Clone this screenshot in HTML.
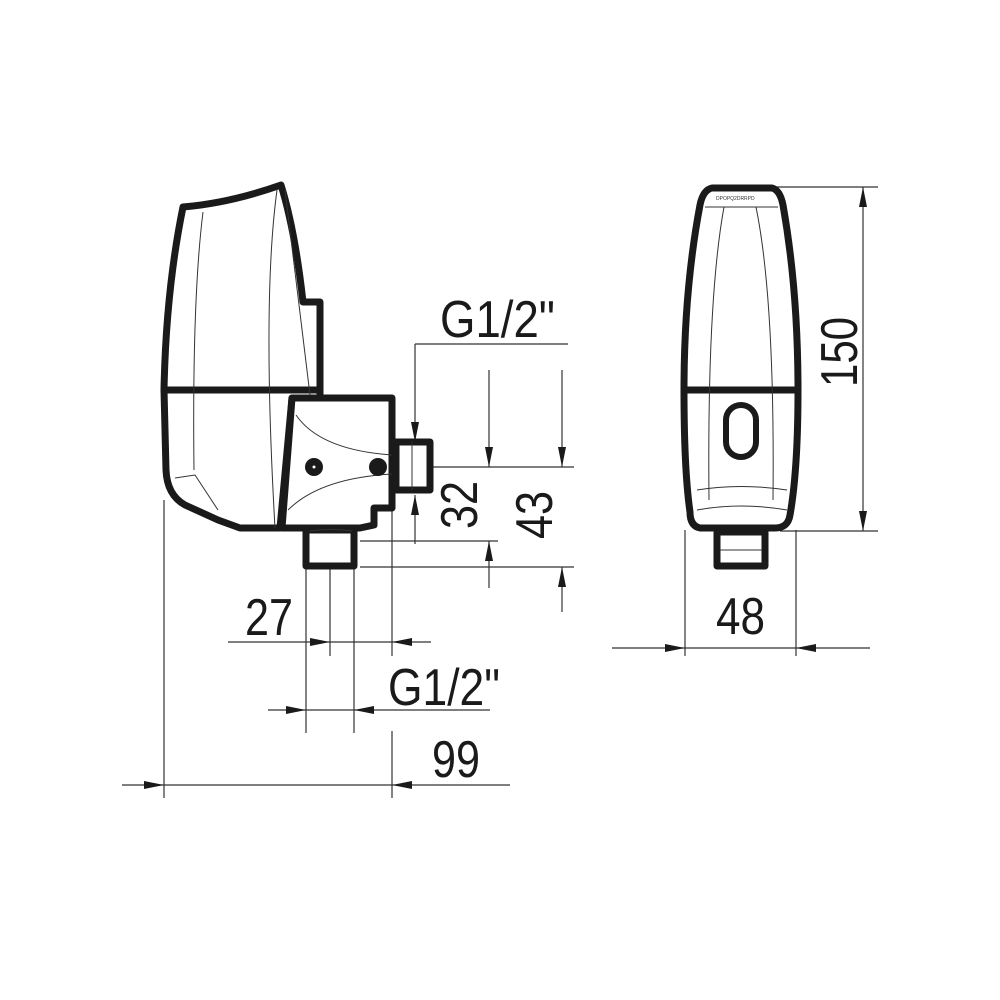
<!DOCTYPE html>
<html><head><style>html,body{margin:0;padding:0;background:#fff}svg{display:block}</style></head>
<body>
<svg width="1000" height="1000" viewBox="0 0 1000 1000" xmlns="http://www.w3.org/2000/svg" font-family="'Liberation Sans', sans-serif">
<defs>
<marker id="a" viewBox="0 0 20 8" refX="20" refY="4" markerWidth="20" markerHeight="8" markerUnits="userSpaceOnUse" orient="auto-start-reverse"><path d="M0,0L20,4L0,8z" fill="#1a1a1a"/></marker>
</defs>
<g stroke="#333" stroke-width="1.2" fill="none">
<line x1="164" y1="500" x2="164" y2="798"/>
<line x1="392" y1="500" x2="392" y2="656"/>
<line x1="392" y1="731" x2="392" y2="798"/>
<line x1="306" y1="566" x2="306" y2="733"/>
<line x1="354" y1="566" x2="354" y2="733"/>
<line x1="330" y1="530" x2="330" y2="656"/>
<line x1="415" y1="344" x2="568" y2="344"/>
<line x1="432" y1="467" x2="574" y2="467"/>
<line x1="360" y1="541" x2="498" y2="541"/>
<line x1="360" y1="567" x2="574" y2="567"/>
<line x1="415" y1="544" x2="415" y2="495" marker-end="url(#a)"/>
<line x1="415" y1="344" x2="415" y2="442" marker-end="url(#a)"/>
<line x1="489" y1="370" x2="489" y2="467" marker-end="url(#a)"/>
<line x1="489" y1="588" x2="489" y2="541" marker-end="url(#a)"/>
<line x1="562" y1="370" x2="562" y2="467" marker-end="url(#a)"/>
<line x1="562" y1="612" x2="562" y2="567" marker-end="url(#a)"/>
<line x1="228" y1="642" x2="330" y2="642" marker-end="url(#a)"/>
<line x1="431" y1="642" x2="392" y2="642" marker-end="url(#a)"/>
<line x1="330" y1="642" x2="392" y2="642"/>
<line x1="268" y1="710" x2="306" y2="710" marker-end="url(#a)"/>
<line x1="490" y1="710" x2="354" y2="710" marker-end="url(#a)"/>
<line x1="306" y1="710" x2="354" y2="710"/>
<line x1="122" y1="785" x2="164" y2="785" marker-end="url(#a)"/>
<line x1="510" y1="785" x2="392" y2="785" marker-end="url(#a)"/>
<line x1="164" y1="785" x2="392" y2="785"/>
<line x1="685" y1="530" x2="685" y2="656"/>
<line x1="796" y1="530" x2="796" y2="656"/>
<line x1="612" y1="648" x2="685" y2="648" marker-end="url(#a)"/>
<line x1="870" y1="648" x2="796" y2="648" marker-end="url(#a)"/>
<line x1="685" y1="648" x2="796" y2="648"/>
<line x1="770" y1="187" x2="878" y2="187"/>
<line x1="780" y1="531" x2="878" y2="531"/>
<line x1="863" y1="359" x2="863" y2="187" marker-end="url(#a)"/>
<line x1="863" y1="359" x2="863" y2="531" marker-end="url(#a)"/>
</g>
<g fill="#fff" stroke="#1a1a1a" stroke-width="7" stroke-linejoin="round">
<path d="M183,207 Q230,203 281,185 Q295,230 303,302 L320,302 L320,390 L164,390 Q166,290 183,207Z"/>
<path d="M164,390 L320,390 L320,398 L292,398 L280,528 L240,528 L218,520 L185,505 Q167,495 166,470 Z"/>
<path d="M292,398 L392,398 L392,508 L374,508 L374,525 L360,528 L282,528 Z"/>
<rect x="396" y="442" width="34" height="48"/>
<rect x="306" y="530" width="48" height="36"/>
</g>
<g fill="none" stroke="#333" stroke-width="1">
<path d="M203,212 Q192,300 194,470"/>
<path d="M277,190 Q262,300 275,528"/>
<path d="M285,190 Q298,300 310,395"/>
<path d="M296,415 Q320,450 392,455"/>
<path d="M288,510 Q320,478 392,474"/>
<path d="M175,478 L195,475 L218,510"/>
<path d="M310,531 Q330,528 352,531"/>
<line x1="412" y1="442" x2="412" y2="490"/>
</g>
<circle cx="314" cy="467" r="9" fill="#1a1a1a"/>
<circle cx="378" cy="467" r="9" fill="#1a1a1a"/>
<circle cx="314" cy="467" r="1.5" fill="#fff"/>
<g fill="#fff" stroke="#1a1a1a" stroke-width="7" stroke-linejoin="round">
<path d="M712,188 L772,188 Q780,190 783,205 Q798,290 798,390 Q798,470 790,515 Q788,528 775,528 L700,528 Q690,526 690,512 Q684,470 684,390 Q684,290 700,205 Q703,190 712,188Z"/>
<line x1="685" y1="390" x2="797" y2="390"/>
<rect x="717" y="532" width="48" height="34"/>
<rect x="726" y="405" width="30" height="52" rx="15" stroke-width="6"/>
</g>
<g fill="none" stroke="#333" stroke-width="1">
<path d="M705,207 L778,207"/>
<path d="M724,207 Q707,300 709,500"/>
<path d="M756,207 Q775,300 773,500"/>
<path d="M697,490 Q741,483 787,490"/>
<path d="M697,510 Q741,502 787,510"/>
<line x1="720" y1="550" x2="762" y2="550"/>
</g>
<text x="716" y="200" font-size="5" fill="#333">DPOPQ2DRRPD</text>
<g fill="#1a1a1a" font-size="52">
<text x="440" y="337" textLength="115" lengthAdjust="spacingAndGlyphs">G1/2"</text>
<text x="245" y="635" textLength="48" lengthAdjust="spacingAndGlyphs">27</text>
<text x="388" y="705" textLength="112" lengthAdjust="spacingAndGlyphs">G1/2"</text>
<text x="432" y="777" textLength="48" lengthAdjust="spacingAndGlyphs">99</text>
<text x="716" y="634" textLength="49" lengthAdjust="spacingAndGlyphs">48</text>
<text transform="translate(477,505) rotate(-90)" text-anchor="middle" textLength="48" lengthAdjust="spacingAndGlyphs">32</text>
<text transform="translate(552,515) rotate(-90)" text-anchor="middle" textLength="48" lengthAdjust="spacingAndGlyphs">43</text>
<text transform="translate(857,352) rotate(-90)" text-anchor="middle" textLength="70" lengthAdjust="spacingAndGlyphs">150</text>
</g>
</svg>
</body></html>
